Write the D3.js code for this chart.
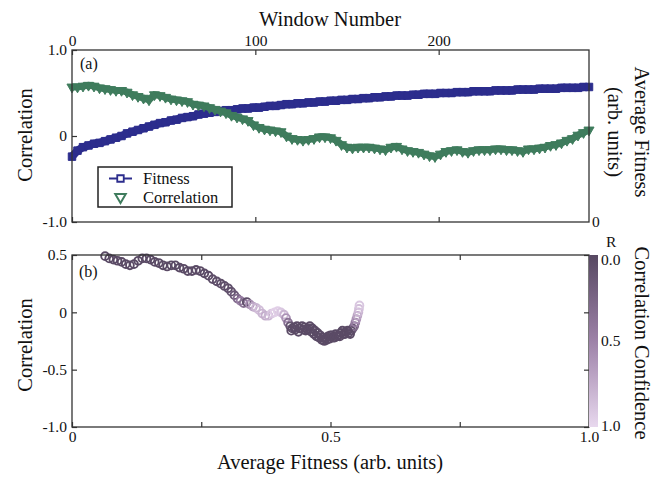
<!DOCTYPE html>
<html>
<head>
<meta charset="utf-8">
<script src="https://cdn.jsdelivr.net/npm/d3@7"></script>
<style>
    body { margin: 0; background: #fff; }
    svg text { font-family: "Liberation Serif", "Times New Roman", serif; fill: #111; }
</style>
</head>
<body>
<div id="chart-area"></div>
<script>
// panel (a): one value every 3 windows
var windowStep = 3;
var windowMax = 282;
// average fitness, right axis (arb. units, 0 at the bottom)
var fitnessTop = [
    0.76,0.83,0.87,0.89,0.91,0.92,0.94,0.96,0.98,1.00,
    1.03,1.05,1.07,1.09,1.11,1.13,1.15,1.16,1.18,1.19,
    1.21,1.22,1.23,1.25,1.26,1.27,1.28,1.29,1.30,1.30,
    1.31,1.32,1.32,1.33,1.33,1.34,1.35,1.35,1.36,1.37,
    1.37,1.38,1.38,1.39,1.39,1.40,1.40,1.41,1.41,1.42,
    1.42,1.43,1.43,1.44,1.44,1.45,1.45,1.46,1.46,1.47,
    1.47,1.47,1.48,1.48,1.49,1.49,1.49,1.50,1.50,1.50,
    1.51,1.51,1.51,1.52,1.52,1.52,1.52,1.53,1.53,1.53,
    1.53,1.54,1.54,1.54,1.54,1.55,1.55,1.55,1.55,1.56,
    1.56,1.56,1.56,1.57,1.57
];
var correlationTop = [
    0.57,0.57,0.58,0.59,0.58,0.56,0.55,0.54,0.53,0.53,
    0.51,0.48,0.46,0.44,0.42,0.48,0.47,0.45,0.43,0.42,
    0.41,0.40,0.37,0.36,0.35,0.33,0.31,0.29,0.27,0.24,
    0.22,0.20,0.18,0.13,0.10,0.08,0.07,0.06,0.05,0.00,
    -0.03,-0.04,-0.05,-0.04,-0.03,-0.01,-0.01,-0.02,-0.05,-0.10,
    -0.13,-0.14,-0.13,-0.13,-0.13,-0.14,-0.15,-0.16,-0.13,-0.12,
    -0.15,-0.17,-0.18,-0.19,-0.21,-0.23,-0.24,-0.21,-0.18,-0.17,
    -0.16,-0.18,-0.19,-0.17,-0.16,-0.16,-0.16,-0.15,-0.15,-0.16,
    -0.16,-0.17,-0.18,-0.15,-0.15,-0.14,-0.13,-0.11,-0.10,-0.08,
    -0.05,-0.03,0.01,0.04,0.07
];

// panel (b): correlation vs average fitness, coloured by confidence R
var fitnessB = [
    0.064,0.072,0.080,0.088,0.096,0.104,0.112,0.120,0.128,0.136,
    0.144,0.152,0.160,0.168,0.176,0.184,0.192,0.200,0.208,0.216,
    0.224,0.232,0.240,0.248,0.256,0.264,0.272,0.280,0.288,0.295,
    0.302,0.308,0.314,0.320,0.326,0.332,0.338,0.344,0.350,0.356,
    0.362,0.368,0.374,0.380,0.386,0.392,0.398,0.404,0.410,0.414,
    0.418,0.422,0.426,0.430,0.435,0.440,0.445,0.450,0.455,0.460,
    0.465,0.470,0.475,0.480,0.485,0.490,0.495,0.500,0.505,0.510,
    0.515,0.520,0.525,0.530,0.535,0.540,0.543,0.546,0.548,0.550,
    0.552,0.554,0.555,0.556,
    0.424,0.432,0.438,0.447,0.452,0.458,0.463,0.468,0.473,0.478,
    0.483,0.488,0.493,0.498,0.503,0.508,0.513,0.518,0.523,0.528,
    0.533,0.538
];
var correlationB = [
    0.49,0.47,0.46,0.45,0.44,0.42,0.41,0.42,0.45,0.47,
    0.47,0.46,0.44,0.43,0.41,0.40,0.41,0.41,0.39,0.38,
    0.36,0.36,0.37,0.36,0.34,0.32,0.29,0.27,0.25,0.23,
    0.21,0.18,0.15,0.12,0.10,0.08,0.09,0.07,0.05,0.04,
    0.02,-0.01,-0.03,-0.03,-0.01,0.00,0.01,0.00,-0.02,-0.05,
    -0.09,-0.12,-0.14,-0.13,-0.12,-0.14,-0.12,-0.13,-0.15,-0.12,
    -0.14,-0.16,-0.18,-0.20,-0.22,-0.23,-0.21,-0.20,-0.22,-0.19,
    -0.20,-0.18,-0.19,-0.17,-0.18,-0.16,-0.14,-0.12,-0.09,-0.06,
    -0.03,0.00,0.03,0.06,
    -0.16,-0.15,-0.17,-0.15,-0.16,-0.14,-0.17,-0.19,-0.21,-0.22,
    -0.24,-0.25,-0.24,-0.23,-0.20,-0.22,-0.21,-0.21,-0.16,-0.19,
    -0.16,-0.19
];
var confidenceB = [
    0.02,0.02,0.02,0.02,0.02,0.02,0.02,0.02,0.02,0.02,
    0.02,0.02,0.02,0.02,0.02,0.02,0.02,0.02,0.02,0.02,
    0.03,0.03,0.03,0.03,0.03,0.03,0.04,0.04,0.05,0.05,
    0.06,0.08,0.15,0.30,0.45,0.35,0.05,0.55,0.70,0.80,
    0.85,0.80,0.75,0.80,0.90,0.95,0.95,0.90,0.80,0.60,
    0.35,0.10,0.05,0.03,0.03,0.03,0.03,0.03,0.03,0.03,
    0.03,0.03,0.03,0.03,0.03,0.03,0.03,0.03,0.03,0.03,
    0.03,0.03,0.03,0.03,0.03,0.05,0.15,0.30,0.45,0.60,
    0.70,0.80,0.85,0.90,
    0.03,0.03,0.03,0.03,0.03,0.03,0.03,0.03,0.03,0.03,
    0.03,0.03,0.03,0.03,0.03,0.03,0.03,0.03,0.03,0.03,
    0.03,0.03
];

// ticks
var windowTicks = [0, 100, 200];
var corrTicksA = [1, 0, -1];
var fitTicksRightA = [0];
var fitTicksB = [0, 0.25, 0.5, 0.75, 1];
var fitLabelsB = [0, 0.5, 1];
var corrTicksB = [0.5, 0, -0.5, -1];
var confTicks = [0, 0.5, 1];

var blue = "#2c2d8d";
var green = "#3f7c5d";

var margin = { left: 72, top: 50 };
var width = 517;
var height = 172;
var gapTop = 255;

var svg = d3.select("#chart-area")
    .append("svg")
    .attr("width", 656)
    .attr("height", 477);

function num(d) {
    if (d === 0) return "0";
    return d3.format(".1f")(d).replace("\u2212", "-");
}

function styleAxis(sel) {
    sel.select(".domain").remove();
    sel.selectAll("line").attr("stroke", "#333").attr("stroke-width", 1.2);
    sel.selectAll("text")
        .attr("font-size", "15.5px")
        .attr("font-family", "Liberation Serif, Times New Roman, serif")
        .attr("fill", "#111");
}

/// ---------- panel (a)
var ga = svg.append("g")
    .attr("transform", "translate(" + margin.left + "," + margin.top + ")");

var xW = d3.scaleLinear().domain([0, windowMax]).range([0, width]);
var yC = d3.scaleLinear().domain([-1, 1]).range([height, 0]);
var yF = d3.scaleLinear().domain([0, 2]).range([height, 0]);

ga.append("g").call(d3.axisTop(xW).tickValues(windowTicks).tickSizeInner(-5).tickSizeOuter(0).tickPadding(4))
    .call(styleAxis);
ga.append("g").attr("transform", "translate(0," + height + ")")
    .call(d3.axisBottom(xW).tickValues(windowTicks).tickSizeInner(-5).tickSizeOuter(0).tickFormat(""))
    .call(styleAxis);
ga.append("g").call(d3.axisLeft(yC).tickValues(corrTicksA).tickSizeInner(-5).tickSizeOuter(0).tickPadding(5).tickFormat(num))
    .call(styleAxis);
ga.append("g").attr("transform", "translate(" + width + ",0)")
    .call(d3.axisRight(yF).tickValues(fitTicksRightA).tickSizeInner(0).tickSizeOuter(0).tickPadding(3).tickFormat(d3.format("d")))
    .call(styleAxis);

var fitLine = d3.line()
    .x(function (d, i) { return xW(i * windowStep); })
    .y(function (d) { return yF(d); });
ga.append("path")
    .datum(fitnessTop)
    .attr("d", fitLine)
    .attr("fill", "none")
    .attr("stroke", blue)
    .attr("stroke-width", 8);
ga.selectAll(".fit-pt")
    .data(fitnessTop)
    .enter()
    .append("path")
    .attr("class", "fit-pt")
    .attr("d", d3.symbol(d3.symbolSquare, 56))
    .attr("transform", function (d, i) { return "translate(" + xW(i * windowStep) + "," + yF(d) + ")"; })
    .attr("fill", blue)
    .attr("stroke", blue)
    .attr("stroke-width", 1);

var corLine = d3.line()
    .x(function (d, i) { return xW(i * windowStep); })
    .y(function (d) { return yC(d); });
ga.append("path")
    .datum(correlationTop)
    .attr("d", corLine)
    .attr("fill", "none")
    .attr("stroke", green)
    .attr("stroke-width", 7);
ga.selectAll(".cor-pt")
    .data(correlationTop)
    .enter()
    .append("path")
    .attr("class", "cor-pt")
    .attr("d", d3.symbol(d3.symbolTriangle, 44))
    .attr("transform", function (d, i) { return "translate(" + xW(i * windowStep) + "," + yC(d) + ") rotate(180)"; })
    .attr("fill", green)
    .attr("stroke", green)
    .attr("stroke-width", 1);

ga.append("rect")
    .attr("width", width)
    .attr("height", height)
    .attr("fill", "none")
    .attr("stroke", "#333")
    .attr("stroke-width", 1.3);

ga.append("text")
    .attr("x", 8)
    .attr("y", 19)
    .attr("font-size", "16px")
    .text("(a)");

// legend
var lg = svg.append("g");
lg.append("rect")
    .attr("x", 98).attr("y", 167)
    .attr("width", 134).attr("height", 40)
    .attr("fill", "#fff")
    .attr("stroke", "#222")
    .attr("stroke-width", 1.5);
lg.append("line")
    .attr("x1", 109).attr("x2", 132)
    .attr("y1", 178.5).attr("y2", 178.5)
    .attr("stroke", blue).attr("stroke-width", 2);
lg.append("path")
    .attr("d", d3.symbol(d3.symbolSquare, 42))
    .attr("transform", "translate(120.5,178.5)")
    .attr("fill", "#fff").attr("stroke", blue).attr("stroke-width", 1.8);
lg.append("path")
    .attr("d", d3.symbol(d3.symbolTriangle, 48))
    .attr("transform", "translate(120.5,197) rotate(180)")
    .attr("fill", "#fff").attr("stroke", green).attr("stroke-width", 2);
lg.append("text").attr("x", 143).attr("y", 184).attr("font-size", "16.5px").text("Fitness");
lg.append("text").attr("x", 143).attr("y", 202.5).attr("font-size", "16.5px").text("Correlation");

/// ---------- panel (b)
var gb = svg.append("g")
    .attr("transform", "translate(" + margin.left + "," + gapTop + ")");

var xF = d3.scaleLinear().domain([0, 1]).range([0, width]);
var yB = d3.scaleLinear().domain([-1, 0.5]).range([height, 0]);
var confColor = d3.scaleLinear().domain([0, 0.5, 1]).range(["#574862", "#9d82a8", "#e8d8ee"]);

gb.append("g").attr("transform", "translate(0," + height + ")")
    .call(d3.axisBottom(xF).tickValues(fitTicksB).tickSizeInner(-5).tickSizeOuter(0).tickPadding(4)
        .tickFormat(function (d) { return fitLabelsB.indexOf(d) >= 0 ? num(d) : ""; }))
    .call(styleAxis);
gb.append("g")
    .call(d3.axisTop(xF).tickValues(fitTicksB).tickSizeInner(-5).tickSizeOuter(0).tickFormat(""))
    .call(styleAxis);
gb.append("g")
    .call(d3.axisLeft(yB).tickValues(corrTicksB).tickSizeInner(-5).tickSizeOuter(0).tickPadding(5).tickFormat(num))
    .call(styleAxis);
gb.append("g").attr("transform", "translate(" + width + ",0)")
    .call(d3.axisRight(yB).tickValues(corrTicksB).tickSizeInner(-5).tickSizeOuter(0).tickFormat(""))
    .call(styleAxis);

gb.selectAll("circle")
    .data(fitnessB)
    .enter()
    .append("circle")
    .attr("cx", function (d) { return xF(d); })
    .attr("cy", function (d, i) { return yB(correlationB[i]); })
    .attr("r", 3.9)
    .attr("fill", "none")
    .attr("stroke", function (d, i) { return confColor(confidenceB[i]); })
    .attr("stroke-width", 1.9);

gb.append("rect")
    .attr("width", width)
    .attr("height", height)
    .attr("fill", "none")
    .attr("stroke", "#333")
    .attr("stroke-width", 1.3);

gb.append("text")
    .attr("x", 7)
    .attr("y", 22)
    .attr("font-size", "16px")
    .text("(b)");

// colour bar
var confY = d3.scaleLinear().domain([0, 1]).range([0, height]);
var grad = svg.append("defs").append("linearGradient")
    .attr("id", "confGrad")
    .attr("x1", 0).attr("y1", 0).attr("x2", 0).attr("y2", 1);
grad.selectAll("stop")
    .data(d3.range(0, 1.01, 0.1))
    .enter()
    .append("stop")
    .attr("offset", function (d) { return d; })
    .attr("stop-color", function (d) { return confColor(d); });
var cb = gb.append("g").attr("transform", "translate(" + width + ",0)");
cb.append("rect")
    .attr("x", 0).attr("y", 0)
    .attr("width", 9).attr("height", height)
    .attr("fill", "url(#confGrad)");
cb.append("g").attr("transform", "translate(9,0)")
    .call(d3.axisRight(confY).tickValues(confTicks).tickSize(0).tickPadding(3).tickFormat(d3.format(".1f")))
    .call(styleAxis)
    .selectAll("text")
    .attr("dy", function (d) { return d === 0 ? "0.6em" : (d === 1 ? "0.2em" : "0.32em"); });
cb.append("text")
    .attr("x", 17).attr("y", -8)
    .attr("font-size", "15.5px")
    .text("R");

/// ---------- axis titles
svg.append("text")
    .attr("x", 330).attr("y", 26)
    .attr("text-anchor", "middle")
    .attr("font-size", "20.5px")
    .text("Window Number");
svg.append("text")
    .attr("x", 330).attr("y", 469)
    .attr("text-anchor", "middle")
    .attr("font-size", "20.5px")
    .text("Average Fitness (arb. units)");
svg.append("text")
    .attr("transform", "translate(32,135) rotate(-90)")
    .attr("text-anchor", "middle")
    .attr("font-size", "20.5px")
    .text("Correlation");
svg.append("text")
    .attr("transform", "translate(32,345) rotate(-90)")
    .attr("text-anchor", "middle")
    .attr("font-size", "20.5px")
    .text("Correlation");
svg.append("text")
    .attr("transform", "translate(635,132) rotate(90)")
    .attr("text-anchor", "middle")
    .attr("font-size", "20.5px")
    .text("Average Fitness");
svg.append("text")
    .attr("transform", "translate(608,132) rotate(90)")
    .attr("text-anchor", "middle")
    .attr("font-size", "20.5px")
    .text("(arb. units)");
svg.append("text")
    .attr("transform", "translate(635,343) rotate(90)")
    .attr("text-anchor", "middle")
    .attr("font-size", "20.5px")
    .text("Correlation Confidence");
</script>
</body>
</html>
